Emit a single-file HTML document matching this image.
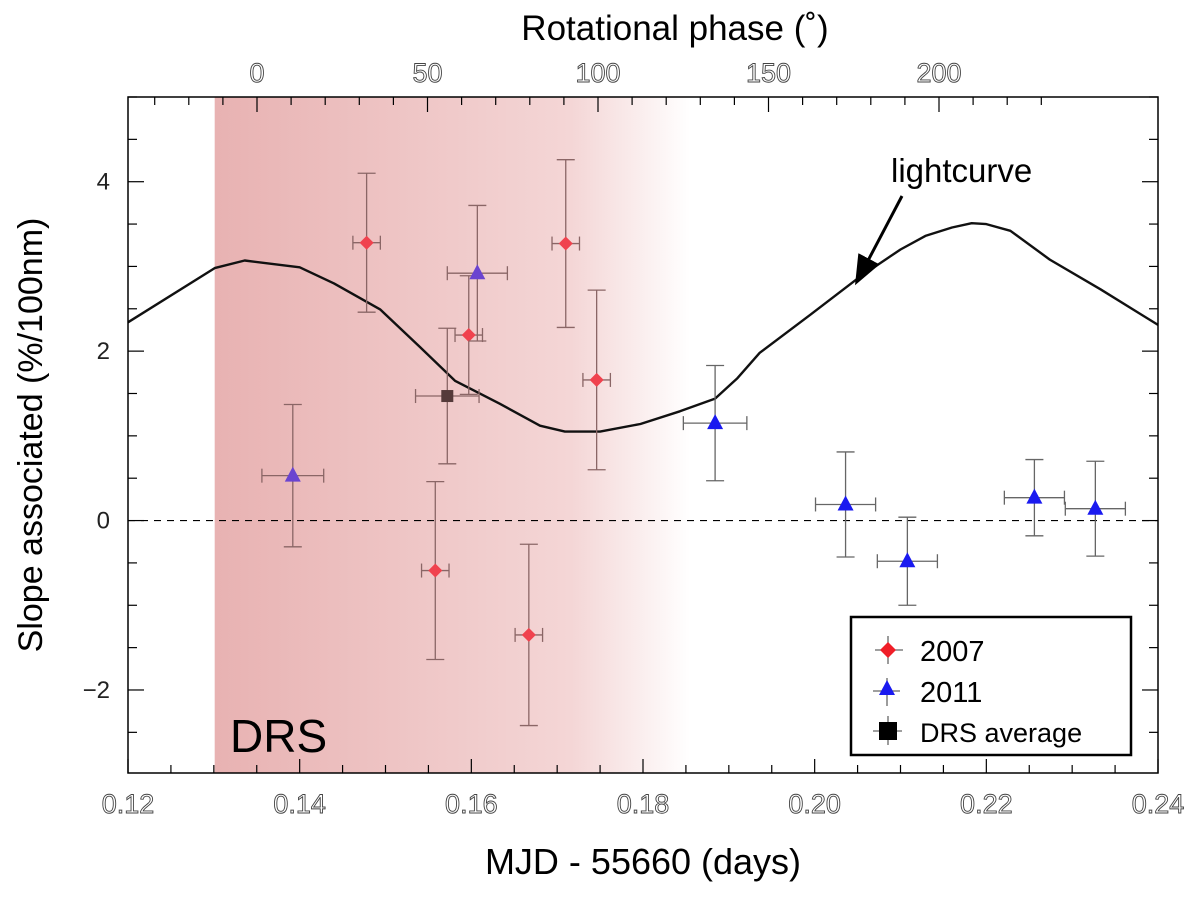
<!DOCTYPE html>
<html><head><meta charset="utf-8"><style>
html,body{margin:0;padding:0;background:#fff;}
svg{display:block;font-family:"Liberation Sans",sans-serif;}
</style></head><body>
<svg id="chart" width="1200" height="897" viewBox="0 0 1200 897">
<defs>
<linearGradient id="drsgrad" x1="0" x2="1" y1="0" y2="0">
<stop offset="0" stop-color="#e8b2b2"/>
<stop offset="0.75" stop-color="#f4d6d6"/>
<stop offset="1" stop-color="#ffffff"/>
</linearGradient>
<marker id="arrowhead" markerWidth="10" markerHeight="10" refX="5" refY="5" orient="auto"><path d="M0,1 L10,5 L0,9 Z" fill="#000"/></marker>
</defs>
<g id="layer"></g>
</svg>
<script>
const mjd2007=[0.1478,0.1558,0.1597,0.1667,0.1710,0.1746];
const slope2007=[3.28,-0.59,2.19,-1.35,3.27,1.66];
const yerr2007=[0.82,1.05,0.70,1.07,0.99,1.06];
const xerr2007=[0.0016,0.0016,0.0016,0.0016,0.0016,0.0016];
const mjd2011=[0.1392,0.1607,0.1884,0.2036,0.2108,0.2256,0.2327];
const slope2011=[0.53,2.92,1.15,0.19,-0.48,0.27,0.14];
const yerr2011=[0.84,0.80,0.68,0.62,0.52,0.45,0.56];
const xerr2011=[0.0036,0.0035,0.0037,0.0035,0.0035,0.0035,0.0035];
const drsAvg=[0.1572,1.47,0.8,0.0037];
const lcX=[0.12,0.1301,0.1336,0.1400,0.1440,0.1494,0.1540,0.1581,0.1633,0.1680,0.1709,0.1750,0.1797,0.1843,0.1884,0.1910,0.1936,0.1995,0.2053,0.2100,0.2129,0.2160,0.2183,0.2200,0.2228,0.2274,0.2333,0.24];
const lcY=[2.34,2.98,3.07,2.99,2.80,2.49,2.05,1.65,1.38,1.12,1.05,1.05,1.14,1.29,1.44,1.68,1.98,2.43,2.88,3.20,3.36,3.46,3.51,3.50,3.42,3.08,2.73,2.31];
const xTicks=[0.12,0.14,0.16,0.18,0.20,0.22,0.24];
const xTickLabels=["0.12","0.14","0.16","0.18","0.20","0.22","0.24"];
const yTicks=[-2,0,2,4];
const yTickLabels=["\u22122","0","2","4"];
const phaseTicks=[0,50,100,150,200];
const drsRange=[0.1301,0.1855];

const L=128,R=1158,T=97,B=773;
const X0=0.12,X1=0.24,Y0=-2.98,Y1=5.0;
const PH0=257,PHSCALE=3.41;
function sx(v){return L+(v-X0)/(X1-X0)*(R-L);}
function sy(v){return B-(v-Y0)/(Y1-Y0)*(B-T);}
function px(p){return PH0+p*PHSCALE;}
const NS="http://www.w3.org/2000/svg";
const g=document.getElementById('layer');
function mk(tag,attrs,parent){const e=document.createElementNS(NS,tag);for(const k in attrs)e.setAttribute(k,attrs[k]);(parent||g).appendChild(e);return e;}

let sh=mk('rect',{x:sx(drsRange[0]),y:T,width:sx(drsRange[1])-sx(drsRange[0]),height:B-T,fill:'url(#drsgrad)'});



let zl=mk('line',{x1:L,x2:R,y1:sy(0),y2:sy(0),stroke:'#000','stroke-width':1.2,'stroke-dasharray':'7,6'});



let d='';lcX.forEach((v,i)=>{d+=(i?'L':'M')+sx(v).toFixed(1)+','+sy(lcY[i]).toFixed(1);});
let lc=mk('path',{d:d,fill:'none',stroke:'#111','stroke-width':2.4,'stroke-linejoin':'round'});



function errbar(x,y,ex,ey,col){
  const eg=mk('g',{stroke:col,'stroke-width':1.3});
  
  
  const X=sx(x),Y=sy(y),xa=sx(x-ex),xb=sx(x+ex),ya=sy(y+ey),yb=sy(y-ey);
  mk('line',{x1:X,x2:X,y1:ya,y2:yb},eg);
  mk('line',{x1:X-9,x2:X+9,y1:ya,y2:ya},eg);
  mk('line',{x1:X-9,x2:X+9,y1:yb,y2:yb},eg);
  mk('line',{x1:xa,x2:xb,y1:Y,y2:Y},eg);
  mk('line',{x1:xa,x2:xa,y1:Y-7,y2:Y+7},eg);
  mk('line',{x1:xb,x2:xb,y1:Y-7,y2:Y+7},eg);
}
mjd2007.forEach((v,i)=>{
  errbar(v,slope2007[i],xerr2007[i],yerr2007[i],'#8a6666');
  const X=sx(v),Y=sy(slope2007[i]);
  const p=mk('path',{d:`M${X},${Y-7}L${X+7},${Y}L${X},${Y+7}L${X-7},${Y}Z`,fill:'#f0424e'});
  
  
});
mjd2011.forEach((v,i)=>{
  const inDrs=v<drsRange[1];
  errbar(v,slope2011[i],xerr2011[i],yerr2011[i],inDrs?'#8a6666':'#666');
  const X=sx(v),Y=sy(slope2011[i]);
  const p=mk('path',{d:`M${X},${Y-9}L${X+8},${Y+6}L${X-8},${Y+6}Z`,fill:inDrs?'#6a44d0':'#1a1af0'});
  
  
});
errbar(drsAvg[0],drsAvg[1],drsAvg[3],drsAvg[2],'#8a6666');
let sq=mk('rect',{x:sx(drsAvg[0])-6,y:sy(drsAvg[1])-6,width:12,height:12,fill:'#553a3a'});



let fr=mk('rect',{x:L,y:T,width:R-L,height:B-T,fill:'none',stroke:'#000','stroke-width':1.5});



const tk=mk('g',{stroke:'#000','stroke-width':1.2});


for(let v=0.12;v<=0.2401;v+=0.005){
  const major=Math.abs(Math.round(v*50)-v*50)<1e-6;const len=major?14:8;const X=sx(v);
  mk('line',{x1:X,x2:X,y1:B,y2:B-len},tk);
}
for(let v=-2.5;v<=5.001;v+=0.5){
  const major=Math.abs(Math.round(v/2)-v/2)<1e-6;const len=major?16:9;const Y=sy(v);
  mk('line',{x1:L,x2:L+len,y1:Y,y2:Y},tk);mk('line',{x1:R,x2:R-len,y1:Y,y2:Y},tk);
}
for(let p=-30;p<=230;p+=10){
  const X=px(p);if(X<L||X>R)continue;const major=p%50===0;
  mk('line',{x1:X,x2:X,y1:T,y2:T+(major?15:8)},tk);
}
xTicks.forEach((v,i)=>{
  const t=mk('text',{x:sx(v),y:813,'text-anchor':'middle','font-size':27,fill:'#fff',stroke:'#444','stroke-width':0.9});
  t.textContent=xTickLabels[i];
  
  
});
yTicks.forEach((v,i)=>{
  const t=mk('text',{x:110,y:sy(v)+8,'text-anchor':'end','font-size':24,fill:'#222'});
  t.textContent=yTickLabels[i];
  
  
});
phaseTicks.forEach(p=>{
  const t=mk('text',{x:px(p),y:82,'text-anchor':'middle','font-size':27,fill:'#fff',stroke:'#444','stroke-width':0.9});
  t.textContent=String(p);
  
  
});
let a=mk('line',{x1:902,y1:196,x2:862,y2:272,stroke:'#000','stroke-width':3,'marker-end':'url(#arrowhead)'});


</script>
<svg style="position:absolute;left:0;top:0" width="1200" height="897">
<text x="675" y="40" text-anchor="middle" font-size="35" font-family="Liberation Sans, sans-serif">Rotational phase (˚)</text>
<text x="643" y="874" text-anchor="middle" font-size="36" font-family="Liberation Sans, sans-serif">MJD - 55660 (days)</text>
<text transform="translate(42,435) rotate(-90)" text-anchor="middle" font-size="34" font-family="Liberation Sans, sans-serif">Slope associated (%/100nm)</text>
<text x="230" y="752" font-size="46" font-family="Liberation Sans, sans-serif">DRS</text>
<text x="891" y="182" font-size="33" font-family="Liberation Sans, sans-serif">lightcurve</text>
<g>
<rect x="851" y="617" width="280" height="138" fill="#fff" stroke="#000" stroke-width="2.5"/>
<g>
<line x1="875" x2="903" y1="650" y2="650" stroke="#666" stroke-width="1.3"/><line x1="888" x2="888" y1="636" y2="664" stroke="#666" stroke-width="1.3"/>
<path d="M888,642L896,650L888,658L880,650Z" fill="#f01e28"/>
<text x="920" y="661" font-size="29" font-family="Liberation Sans, sans-serif">2007</text></g>
<g>
<line x1="873" x2="900" y1="691" y2="691" stroke="#666" stroke-width="1.3"/><line x1="887" x2="887" y1="678" y2="706" stroke="#666" stroke-width="1.3"/>
<path d="M887,680L895,695L879,695Z" fill="#1a1af0"/>
<text x="920" y="702" font-size="29" font-family="Liberation Sans, sans-serif">2011</text></g>
<g>
<line x1="873" x2="902" y1="731" y2="731" stroke="#666" stroke-width="1.3"/><line x1="888" x2="888" y1="716" y2="745" stroke="#666" stroke-width="1.3"/>
<rect x="879" y="722" width="18" height="18" fill="#000"/>
<text x="920" y="742" font-size="27" font-family="Liberation Sans, sans-serif">DRS average</text></g>
</g>
</svg>
</body></html>
